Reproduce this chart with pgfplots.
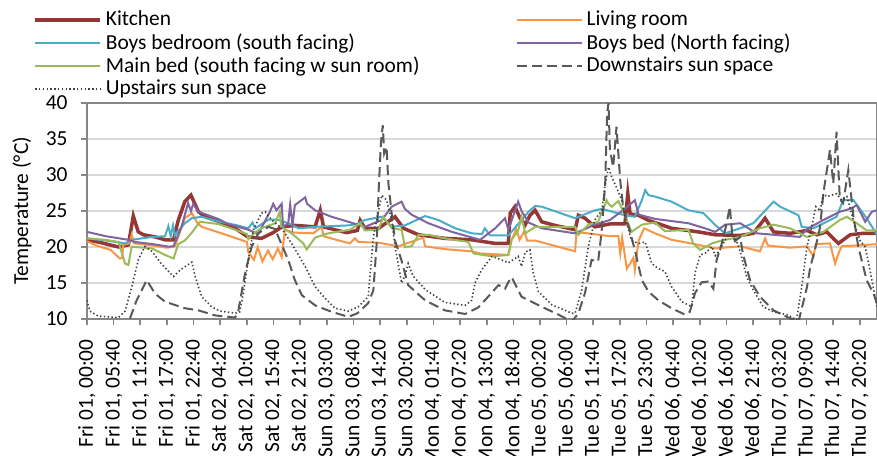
\documentclass[border=0pt]{standalone}
\usepackage{fontspec}
\setmainfont{Carlito}
\usepackage{pgfplots}
\pgfplotsset{compat=1.18}
\definecolor{kitchen}{HTML}{953735}
\definecolor{living}{HTML}{F79646}
\definecolor{boyssouth}{HTML}{4BACC6}
\definecolor{boysnorth}{HTML}{8064A2}
\definecolor{mainbed}{HTML}{9BBB59}
\definecolor{downsun}{HTML}{595959}
\definecolor{upsun}{HTML}{404040}
\definecolor{gridgray}{HTML}{D9D9D9}
\definecolor{axisgray}{HTML}{868686}
\begin{document}
\fontsize{10.7bp}{12.8bp}\selectfont
\begin{tikzpicture}
\begin{axis}[
  at={(0,0)}, anchor=south west,
  scale only axis, width=395bp, height=108bp,
  xmin=0, xmax=168, ymin=10, ymax=40,
  ytick={10,15,20,25,30,35,40},
  xtick={0,5.6667,11.3333,17,22.6667,28.3333,34,39.6667,45.3333,51,56.6667,62.3333,68,73.6667,79.3333,85,90.6667,96.3333,102,107.6667,113.3333,119,124.6667,130.3333,136,141.6667,147.3333,153,158.6667,164.3333},
  xticklabels={{Fri 01, 00:00},{Fri 01, 05:40},{Fri 01, 11:20},{Fri 01, 17:00},{Fri 01, 22:40},{Sat 02, 04:20},{Sat 02, 10:00},{Sat 02, 15:40},{Sat 02, 21:20},{Sun 03, 03:00},{Sun 03, 08:40},{Sun 03, 14:20},{Sun 03, 20:00},{Mon 04, 01:40},{Mon 04, 07:20},{Mon 04, 13:00},{Mon 04, 18:40},{Tue 05, 00:20},{Tue 05, 06:00},{Tue 05, 11:40},{Tue 05, 17:20},{Tue 05, 23:00},{Wed 06, 04:40},{Wed 06, 10:20},{Wed 06, 16:00},{Wed 06, 21:40},{Thu 07, 03:20},{Thu 07, 09:00},{Thu 07, 14:40},{Thu 07, 20:20}},
  xticklabel style={rotate=90, anchor=east},
  xticklabel shift=3.5bp, yticklabel shift=3bp,
  /pgf/number format/assume math mode=true,
  ymajorgrids, grid style={line width=1bp, color=gridgray},
  axis line style={line width=1bp, color=axisgray},
  tick style={line width=0.8bp, color=axisgray},
  tick align=outside, major tick length=3bp,
  xtick pos=bottom, ytick pos=left,
  ylabel={Temperature (°C)},
  ylabel style={at={(axis description cs:-0.0823,0.5)}, anchor=center},
  legend columns=2,
  legend style={draw=none, fill=none, at={(axis description cs:-0.0759,1.465)}, anchor=north west,
    row sep=-1.8bp,
    cells={anchor=west}, /tikz/every even column/.append style={column sep=46bp}},
  legend image code/.code={\draw[#1] (0bp,0bp) -- (32.5bp,0bp);},
]
\addplot[kitchen, line width=1.75bp] coordinates {(0,21.0)(3,20.6)(6.7,20.0)(8.8,20.3)(9.85,24.3)(10.9,22.1)(12,21.7)(14.5,21.4)(16.6,21.0)(18.4,21.0)(19.4,23.7)(20.8,26.3)(22.1,27.2)(23.7,24.9)(25.1,24.2)(28.3,23.5)(31.5,22.6)(34.2,21.4)(37.1,21.2)(39.6,22.0)(41.4,22.8)(44.2,23.0)(48.5,22.8)(49.6,25.1)(50.3,22.8)(52.7,22.4)(55.2,22.0)(57.5,22.3)(58.1,23.7)(59.1,22.6)(62,22.6)(65.5,24.2)(67.3,22.6)(70.5,21.7)(76.1,21.2)(81.8,21.0)(86.8,20.5)(89.6,20.5)(90,24.7)(91,25.6)(92.1,24.0)(93.2,23.1)(94.2,24.4)(95.3,25.1)(96.7,23.5)(99.5,23.0)(103.8,22.4)(104.5,24.4)(105.9,24.0)(108,22.8)(111.2,23.2)(114.4,23.2)(115,27.4)(115.5,24.6)(117.3,24.4)(119.4,23.7)(124.3,22.6)(130,22.1)(133.6,21.7)(138.9,21.6)(141.7,21.9)(144.2,24.0)(146,22.1)(149.5,21.9)(153.1,22.3)(155.2,21.7)(157.3,22.1)(159.8,20.5)(162.3,21.7)(165.1,21.9)(168,21.9)};
\addlegendentry{Kitchen}
\addplot[living, line width=1bp] coordinates {(0,20.8)(2,20.2)(5,19.6)(7.0,18.4)(7.5,18.5)(7.7,20.3)(9.0,20.5)(9.5,21.7)(10.0,20.5)(14,20.2)(17,19.9)(18.7,20.1)(20.8,24.0)(22.3,24.7)(23.5,23.3)(24.4,22.8)(27.2,22.2)(30,21.6)(34,20.7)(34.3,19.3)(35.5,18.2)(36.3,20.0)(37.3,18.0)(38.5,19.5)(39.5,18.3)(40.6,19.8)(41.4,18.6)(42.1,22.4)(44,22.0)(48.1,21.9)(49.9,22.8)(50.3,21.5)(53,21.0)(55.9,20.5)(57,21.2)(57.7,20.7)(62,20.6)(66.2,20.1)(71.5,21.3)(71.9,20.1)(76.1,19.7)(81.8,19.4)(83.6,19.1)(89.6,18.9)(90.3,21.0)(91.3,22.5)(92,21.0)(93,22.2)(93.6,20.9)(95.3,20.9)(103.8,19.4)(104.1,22.1)(111.2,21.5)(113.0,21.5)(113.4,19.1)(113.8,21.3)(114.8,17.0)(115.5,17.7)(116.2,18.5)(116.5,16.8)(117.3,20.9)(118.5,22.6)(120.8,21.9)(124.3,21.0)(129.3,20.4)(133.6,19.8)(138.9,20.1)(143.1,19.4)(144.2,21.2)(144.8,20.2)(149.5,19.9)(153.1,20.1)(154.5,18.7)(155,20.4)(158,20.5)(159.1,17.7)(159.8,19.1)(160.5,20.1)(165.8,20.3)(168,20.4)};
\addlegendentry{Living room}
\addplot[boyssouth, line width=1bp] coordinates {(0,21.2)(4,20.9)(8.1,20.5)(9.5,21.0)(13.8,21.4)(16.6,21.5)(17.3,22.9)(17.8,21.5)(18.3,23.0)(18.7,21.6)(19.1,22.0)(20.8,23.3)(22.3,24.0)(24.4,24.2)(28.3,23.5)(32,23.0)(34.3,22.6)(35.2,23.4)(35.8,22.6)(38.6,23.8)(40.5,23.8)(42.8,23.3)(45,22.6)(48.5,22.8)(55.6,23.0)(57.5,23.2)(59.1,23.75)(62.7,24.2)(64.8,22.8)(67.6,23.0)(71.9,24.3)(74.7,23.75)(78.3,22.6)(81.8,21.9)(84.0,21.8)(84.6,22.6)(85.7,21.6)(89.6,21.6)(91.7,23.2)(93.9,24.9)(95.3,25.7)(96.7,25.6)(103.8,24.0)(108,25.1)(109.5,25.3)(111.2,25.0)(114.4,24.4)(116.5,24.2)(118,26.5)(118.7,27.9)(119.4,27.2)(120.8,27.0)(124.3,26.3)(127.9,25.1)(131.1,24.7)(133.6,23.05)(135.7,21.9)(138.9,22.6)(141.7,23.3)(146,26.3)(147.4,25.6)(151.3,24.4)(152,22.8)(154.5,22.6)(159.4,24.2)(160.8,26.5)(163,26.5)(165.8,24.0)(168,21.7)};
\addlegendentry{Boys bedroom (south facing)}
\addplot[boysnorth, line width=1bp] coordinates {(0,22.1)(4,21.5)(8.8,21.0)(10.2,20.7)(14,20.4)(17.3,20.05)(18.4,20.1)(20.1,22.8)(21.5,26.1)(22.1,25.0)(22.6,26.0)(23.7,24.9)(27.9,23.9)(30,23.2)(34.3,22.4)(36.4,21.8)(38.9,24.9)(39.6,26.0)(40.3,25.1)(41.4,26.0)(41.7,22.8)(42.8,23.3)(43.2,25.9)(43.7,23.0)(44.2,25.8)(46.4,26.9)(46.8,26.0)(48.5,25.1)(52,24.2)(55.6,23.5)(59.1,22.8)(62.7,23.75)(64.8,25.6)(66.9,26.3)(67.6,25.3)(69,24.5)(72.6,23.3)(77.6,22.1)(83.6,21.0)(86.8,22.6)(88.9,24.0)(89.6,22.4)(91.7,26.3)(92.4,25.0)(93.9,23.4)(96.7,22.6)(103.8,21.9)(105.9,22.5)(108,23.1)(111.2,23.75)(114.4,25.3)(116.5,26.5)(117.3,24.5)(120.8,23.9)(127.9,23.3)(131.4,22.6)(133.6,22.1)(135.7,23.1)(138.9,23.3)(142.4,21.9)(146,21.7)(151.6,21.4)(153.1,22.5)(156.6,23.75)(160.1,24.9)(162.3,25.3)(163.7,25.8)(165.5,23.5)(166.9,24.9)(168,25.1)};
\addlegendentry{Boys bed (North facing)}
\addplot[mainbed, line width=1bp] coordinates {(0,21.2)(3.8,21.0)(6.7,20.7)(8.1,17.7)(8.8,17.5)(9.5,20.05)(13.8,19.8)(16.6,18.9)(18.4,18.4)(19.4,20.4)(20.8,20.9)(22.3,22.0)(24.0,23.5)(27.9,23.2)(31.5,22.4)(34.0,21.8)(34.3,21.1)(35.7,22.0)(37.1,22.6)(40.0,23.3)(41.0,24.9)(41.3,22.8)(43.5,21.9)(46.0,20.5)(46.7,19.65)(48.5,21.3)(51.3,21.9)(55.9,22.4)(58.1,23.3)(59.1,22.3)(62,22.4)(63,24.2)(64.8,22.6)(66.9,22.4)(67.6,20.0)(69,20.1)(70.5,21.7)(72.6,21.7)(76.1,21.2)(81.1,20.7)(82.2,19.1)(86.1,18.7)(89.6,18.9)(90.3,21.0)(91.7,22.3)(92.4,24.2)(93.2,21.9)(95.3,22.8)(103.8,22.8)(104.5,21.7)(106.6,23.1)(108.7,23.5)(110.5,26.5)(110.9,26.0)(111.6,25.6)(113,26.4)(114.4,24.4)(115.8,22.1)(118,23.1)(120.8,23.4)(122.9,22.2)(127.9,22.4)(128.9,20.5)(130.4,19.6)(132.9,20.5)(135,20.9)(138.9,21.4)(143.1,22.6)(146,23.1)(149.5,22.6)(153.1,21.4)(156.6,22.1)(160.1,23.75)(161.6,24.2)(163.7,23.3)(165.8,22.3)(168,22.3)};
\addlegendentry{Main bed (south facing w sun room)}
\addplot[downsun, line width=1bp, dash pattern=on 5bp off 2.5bp] coordinates {(0,9.5)(8.5,9.5)(9.1,10.0)(10.5,12.5)(12.7,15.4)(14.5,13.5)(16.6,12.4)(20.8,11.5)(23.7,11.2)(27.2,10.5)(31.5,10.2)(32.2,11.2)(33.6,16.3)(35,20.0)(36.4,21.9)(38.6,22.8)(40,22.5)(40.7,21.4)(42.8,18.2)(44.2,15.4)(45.7,13.3)(48.5,11.9)(52,11.0)(55.6,10.3)(57.5,10.8)(59.8,12.2)(60.9,14.0)(61.6,20.5)(62,27.5)(62.5,34.4)(62.9,36.9)(63.2,33.0)(63.7,33.9)(64.1,28.8)(64.8,24.6)(65.5,20.9)(66.9,18.1)(68.3,14.7)(71.9,12.6)(76.1,11.2)(80.4,10.7)(83.2,11.6)(85.3,13.1)(87.5,14.7)(88.9,14.2)(89.6,15.1)(90.3,15.8)(92.4,13.1)(96.7,11.7)(100.3,10.6)(103.1,9.6)(104.5,10.8)(105.9,13.6)(107.3,18.2)(108.7,18.0)(109.4,21.9)(110.2,28.8)(110.6,38.5)(110.9,40.0)(111.2,33.5)(111.9,31.1)(112.6,36.7)(113.4,29.2)(114.1,25.1)(115.2,22.8)(116.5,19.6)(118,15.4)(119.4,13.8)(121.5,12.6)(124.3,11.5)(127.2,10.6)(128.2,11.0)(129.3,13.6)(130.7,15.1)(132.1,15.2)(133.2,14.2)(133.9,18.2)(135,20.5)(136,23.2)(136.7,25.6)(137.2,21.8)(137.8,20.8)(138.9,21.4)(139.5,19.0)(141,15.4)(143.1,13.1)(146,11.2)(148.8,10.3)(151.3,9.6)(153.1,14.4)(153.8,17.2)(154.8,19.6)(155.9,22.8)(156.6,27.5)(158,33.5)(158.7,28.8)(159.4,36.0)(160.1,26.6)(160.8,26.1)(161.9,30.7)(163,24.2)(164,20.1)(165.8,15.4)(167.2,13.6)(168,12.2)};
\addlegendentry{Downstairs sun space}
\addplot[upsun, line width=0.8bp, dash pattern=on 0.7bp off 1.2bp] coordinates {(0,12.6)(0.6,11.1)(2.4,10.4)(6.7,10.2)(8.1,11.1)(9.5,14.4)(10.9,18.2)(12.3,20.05)(13.8,19.4)(15.9,17.6)(18.4,15.9)(19.8,16.8)(22.3,17.9)(23.0,15.9)(24.4,13.1)(26.5,11.7)(28.3,11.1)(31.5,10.8)(32.5,11.0)(33.2,13.5)(34.3,18.2)(35.4,22.4)(37.1,24.7)(37.9,24.9)(39.3,23.75)(41.4,22.6)(43.5,20.5)(46.4,17.3)(48.5,14.5)(50.6,12.9)(52.7,11.5)(55.6,11.1)(57.7,11.7)(59.8,13.1)(60.9,21.4)(62,25.1)(62.7,27.2)(63.7,26.5)(64.8,23.75)(65.5,20.05)(66.9,15.0)(67.6,16.0)(68.3,17.7)(69.3,16.0)(71.9,14.1)(76.1,12.3)(80.4,11.9)(81.8,12.6)(82.5,15.0)(83.9,16.8)(86.1,18.7)(88.2,18.2)(89.6,17.8)(91.7,18.7)(92.4,17.3)(93.2,19.3)(94.2,19.6)(94.9,16.4)(96.0,13.8)(98.8,12.0)(103.1,10.8)(103.8,10.8)(105.2,14.0)(106.6,20.05)(108.0,23.75)(109.5,25.1)(110.2,28.8)(110.9,31.1)(111.6,29.7)(112.6,28.3)(113.7,26.5)(114.8,23.2)(115.8,20.9)(117.3,20.5)(118.7,20.7)(120.1,17.7)(121.5,17.0)(122.9,16.6)(124.3,14.5)(126.5,12.4)(128.6,11.7)(129.3,16.4)(130.4,18.9)(131.4,19.1)(132.9,20.05)(133.6,18.8)(134.6,19.6)(135.7,21.0)(136.7,21.8)(137.8,21.4)(138.9,19.4)(140.3,15.8)(141.7,14.0)(143.8,11.7)(146,11.0)(148.8,10.6)(150.9,9.9)(152,14.5)(153.1,20.05)(154.1,22.8)(155,25.6)(155.9,25.0)(156.6,27.4)(157.3,27.0)(158.4,27.2)(159.4,27.4)(160.5,26.5)(161.6,27.0)(163,23.7)(164.4,20.9)(165.5,20.0)(166.5,16.8)(168,11.7)};
\addlegendentry{Upstairs sun space}
\end{axis}
\pgfresetboundingbox
\path[use as bounding box] (-43.5bp,-68.5bp) rectangle (395bp,159.5bp);
\end{tikzpicture}
\end{document}
